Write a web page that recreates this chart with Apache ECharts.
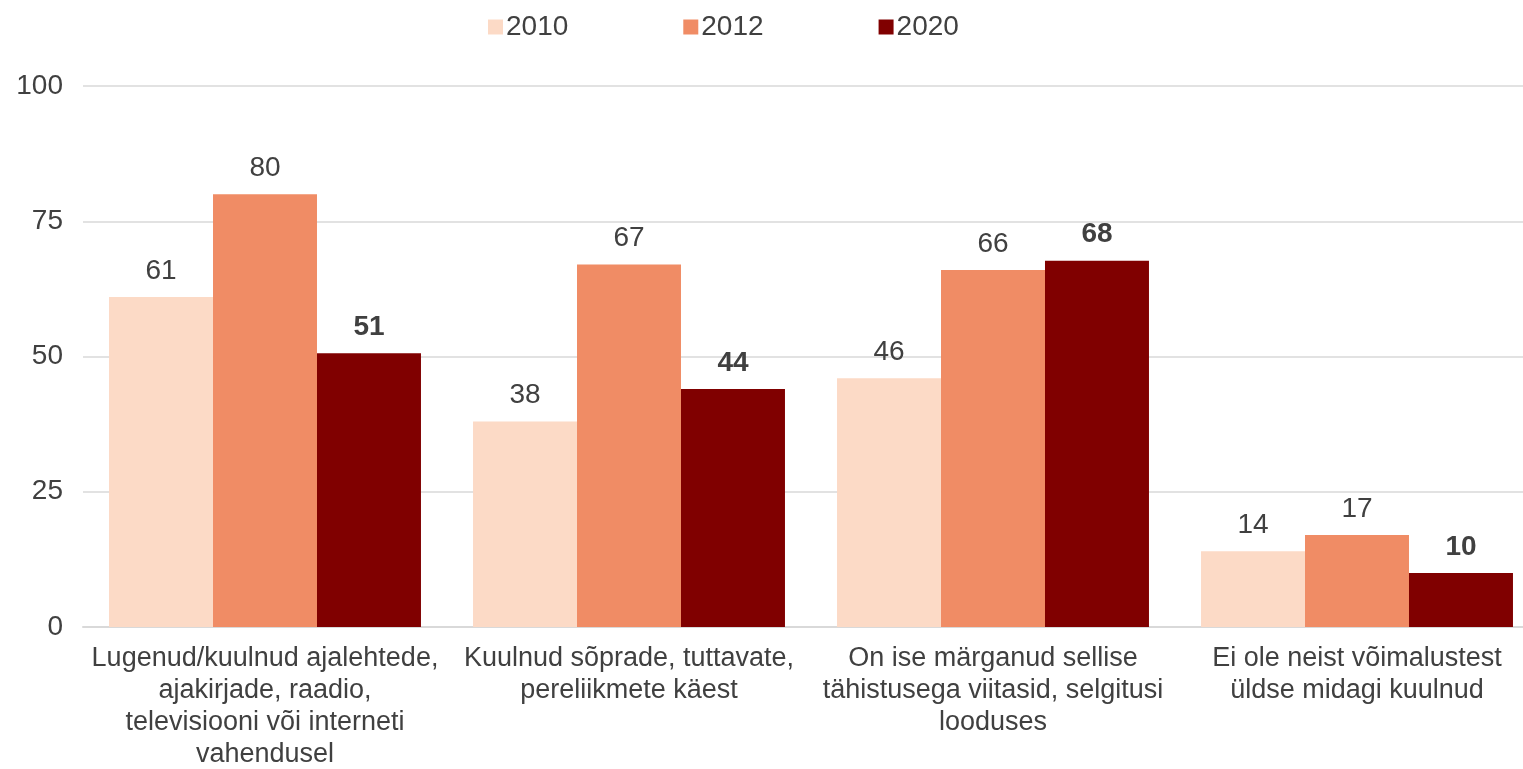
<!DOCTYPE html>
<html>
<head>
<meta charset="utf-8">
<script src="https://cdn.jsdelivr.net/npm/echarts@6/dist/echarts.min.js"></script>
<style>
  html, body { margin: 0; padding: 0; background: #fff; }
  #chart { width: 1523px; height: 769px; }
</style>
</head>
<body>
<div id="chart"></div>
<script>
const categories = [
  'Lugenud/kuulnud ajalehtede,\najakirjade, raadio,\ntelevisiooni või interneti\nvahendusel',
  'Kuulnud sõprade, tuttavate,\npereliikmete käest',
  'On ise märganud sellise\ntähistusega viitasid, selgitusi\nlooduses',
  'Ei ole neist võimalustest\nüldse midagi kuulnud'
]
const years = ['2010', '2012', '2020']
const values2010 = [61, 38, 46, 14]
const values2012 = [80, 67, 66, 17]
const values2020 = [50.6, 44, 67.7, 10]
const yTicks = [0, 25, 50, 75, 100]

const colors = ['#FCDAC6', '#F08C65', '#800000']
const font = 'Liberation Sans, Arial, sans-serif'

const chart = echarts.init(document.getElementById('chart'))

function barSeries (name, data, color, bold) {
  return {
    name: name,
    type: 'bar',
    data: data,
    barGap: '0%',
    barCategoryGap: '14.3%',
    itemStyle: { color: color },
    label: {
      show: true,
      position: 'top',
      distance: 12,
      fontFamily: font,
      fontSize: 28,
      fontWeight: bold ? 'bold' : 'normal',
      color: '#404040',
      formatter: p => Math.round(p.value)
    }
  }
}

chart.setOption({
  animation: false,
  textStyle: { fontFamily: font },
  legend: {
    top: 8,
    left: 483,
    itemGap: 115,
    itemWidth: 15,
    itemHeight: 15,
    icon: 'rect',
    data: years,
    textStyle: { fontFamily: font, fontSize: 28, color: '#404040', padding: [0, 0, 0, -2] }
  },
  grid: {
    left: 83,
    width: 1456,
    top: 86,
    height: 541,
    containLabel: false,
    outerBoundsMode: 'none'
  },
  xAxis: {
    type: 'category',
    data: categories,
    axisTick: { show: false },
    axisLine: { lineStyle: { color: '#D9D9D9', width: 2 } },
    axisLabel: {
      interval: 0,
      margin: 16,
      fontFamily: font,
      fontSize: 27,
      lineHeight: 32,
      color: '#404040'
    }
  },
  yAxis: {
    type: 'value',
    min: 0,
    max: 100,
    interval: 25,
    axisLine: { show: false },
    axisTick: { show: false },
    splitLine: { lineStyle: { color: '#D9D9D9', width: 1.5 } },
    axisLabel: {
      margin: 20,
      fontFamily: font,
      fontSize: 28,
      color: '#404040',
      formatter: v => yTicks.includes(v) ? String(v) : ''
    }
  },
  series: [
    barSeries(years[0], values2010, colors[0], false),
    barSeries(years[1], values2012, colors[1], false),
    barSeries(years[2], values2020, colors[2], true)
  ]
})
</script>
</body>
</html>
